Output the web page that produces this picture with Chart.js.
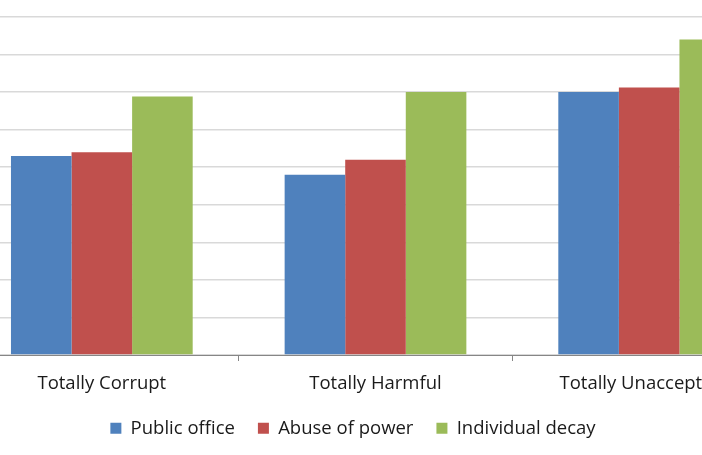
<!DOCTYPE html>
<html>
<head>
<meta charset="utf-8">
<script src="https://cdn.jsdelivr.net/npm/chart.js@4"></script>
<style>
  html, body { margin: 0; padding: 0; background: #fff; }
  #frame { position: relative; width: 702px; height: 455px; overflow: hidden; }
  #wrap { position: absolute; left: -80px; top: 0; width: 870px; height: 455px; }
</style>
</head>
<body>
<div id="frame">
  <div id="wrap"><canvas id="chart"></canvas></div>
</div>
<script>
const categories = ['Totally Corrupt', 'Totally Harmful', 'Totally Unacceptable'];
const publicOffice = [26.5, 24.0, 35.0];
const abuseOfPower = [27.0, 26.0, 35.6];
const individualDecay = [34.4, 35.0, 42.0];
const yTicks = [0, 5, 10, 15, 20, 25, 30, 35, 40, 45];

const font = "'Open Sans', sans-serif";

new Chart(document.getElementById('chart').getContext('2d'), {
    type: 'bar',
    data: {
        labels: categories,
        datasets: [
            { label: 'Public office', data: publicOffice, backgroundColor: '#4F81BD' },
            { label: 'Abuse of power', data: abuseOfPower, backgroundColor: '#C0504D' },
            { label: 'Individual decay', data: individualDecay, backgroundColor: '#9BBB59' }
        ]
    },
    options: {
        responsive: true,
        maintainAspectRatio: false,
        animation: false,
        layout: { padding: { top: 17, right: 4, left: 0, bottom: 7.5 } },
        datasets: {
            bar: { categoryPercentage: 0.664, barPercentage: 1.0, borderWidth: 0 }
        },
        scales: {
            x: {
                afterFit: (axis) => { axis.height = 41; },
                grid: {
                    offset: true,
                    drawOnChartArea: false,
                    drawTicks: true,
                    tickLength: 6,
                    color: '#868686'
                },
                border: { color: '#868686', width: 1 },
                ticks: {
                    color: '#1a1a1a',
                    font: { family: font, size: 18.5 },
                    padding: 12,
                    maxRotation: 0,
                    autoSkip: false
                }
            },
            y: {
                min: yTicks[0],
                max: yTicks[yTicks.length - 1],
                afterBuildTicks: (axis) => { axis.ticks = yTicks.map(v => ({ value: v })); },
                afterFit: (axis) => { axis.width = 45; },
                grid: { color: '#d9d9d9', lineWidth: 1.5, drawTicks: false },
                border: { display: false },
                ticks: { display: false }
            }
        },
        plugins: {
            legend: {
                position: 'bottom',
                labels: {
                    color: '#1a1a1a',
                    font: { family: font, size: 18.5 },
                    boxWidth: 11,
                    boxHeight: 11,
                    padding: 23
                }
            },
            tooltip: { enabled: false }
        }
    }
});
</script>
</body>
</html>
